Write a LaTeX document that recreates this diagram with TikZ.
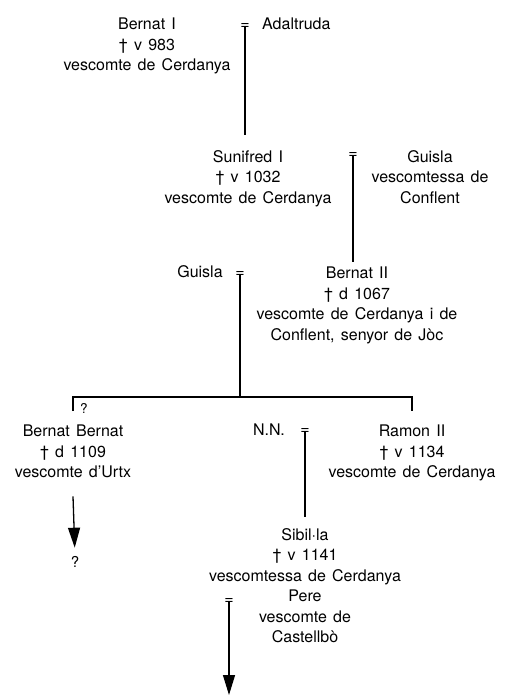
\documentclass[tikz,border=0pt]{standalone}
\usepackage{fontspec}
\setmainfont{TeX Gyre Heros}[WordSpace=1.4]
\usetikzlibrary{arrows.meta}

\begin{document}
\begin{tikzpicture}[
  x=1pt, y=-1pt,
  >={Triangle[length=20pt,width=12pt]},
  person/.style={align=center, inner sep=0pt, anchor=north, font=\fontsize{16}{20.5}\selectfont},
  single/.style={inner sep=0pt, anchor=base, font=\fontsize{16}{20}\selectfont},
  wed/.style={inner sep=0pt, font=\fontsize{16}{20}\selectfont},
  query/.style={inner sep=0pt, anchor=base},
  link/.style={line width=1.3pt}
]
\useasboundingbox (0,0) rectangle (508,700);

% first generations
\node[person] (bernatI) at (147,18) {Bernat I\\† v 983\\vescomte de Cerdanya};
\node[wed] (eqA) at (245,27) {=};
\node[single, anchor=base west] (adaltruda) at (262,30) {Adaltruda};

\node[person] (sunifred) at (248,150) {Sunifred I\\† v 1032\\vescomte de Cerdanya};
\node[wed] (eqB) at (353,156) {=};
\node[person] (guislaC) at (430,150) {Guisla\\vescomtessa de\\Conflent};

\node[person] (bernatII) at (357,267) {Bernat II\\† d 1067\\vescomte de Cerdanya i de\\Conflent, senyor de Jòc};
\node[single] (guislaB) at (200,277) {Guisla};
\node[wed] (eqC) at (240,274) {=};

% children of Bernat II
\node[person] (bernatB) at (73,425) {Bernat Bernat\\† d 1109\\vescomte d'Urtx};
\node[query, font=\fontsize{13.5}{15}\selectfont] (qA) at (84,413) {?};
\node[single] (nn) at (269,435) {N.N.};
\node[wed] (eqD) at (305,431) {=};
\node[person] (ramon) at (412,425) {Ramon II\\† v 1134\\vescomte de Cerdanya};

\node[person] (sibilla) at (305,528) {Sibil·la\\† v 1141\\vescomtessa de Cerdanya\\Pere\\vescomte de\\Castellbò};
\node[wed] (eqE) at (229,601) {=};
\node[query, font=\fontsize{15}{18}\selectfont] (qB) at (75,567) {?};

\coordinate (bar) at (240,397);
\coordinate (descent) at (229,695);

% lines of descent
\draw[link, shorten >=15pt] (eqA.center) -- (eqA |- sunifred.north);
\draw[link, shorten >=5pt] (eqB.center) -- (eqB |- bernatII.north);
\draw[link] (eqC.center) -- (bar);
\draw[link] ([yshift=14pt]bernatB.north) -- (bernatB.north |- bar)
  -- (ramon.north |- bar) -- ([yshift=14pt]ramon.north);
\draw[link, shorten >=11pt] (eqD.center) -- (sibilla.north);
\draw[link, ->, shorten >=8pt] ([yshift=-18pt]bernatB.south) -- (qB.north);
\draw[link, ->] (eqE.center) -- (descent);

\end{tikzpicture}
\end{document}
